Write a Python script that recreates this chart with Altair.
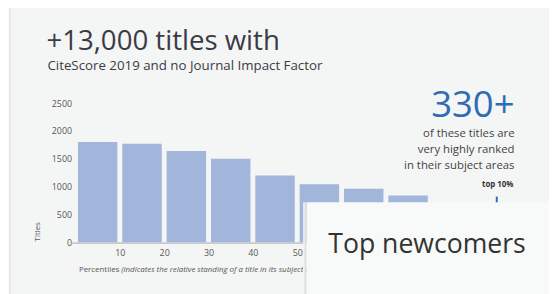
import altair as alt
import pandas as pd

# ---- data ----
bin_start = [0, 10, 20, 30, 40, 50, 60, 70, 80, 90]
bin_width = 10
titles = [1800, 1770, 1640, 1500, 1200, 1040, 960, 840, 650, 330]
x_ticks = [10, 20, 30, 40, 50]
y_ticks = [0, 500, 1000, 1500, 2000, 2500]
top10_pos = [95]
top10_top = [820]

# ---- layout (page pixels -> plot pixels) ----
W, H = 450, 141
OX, OY = 76.5, 102.5


def px(x):
    return x - OX


def py(y):
    return y - OY


FONT = "Open Sans"
BAR = "#a2b5da"
BLUE = "#2e6cb5"
CARD = "#f4f5f5"

bars_df = pd.DataFrame({
    "start": bin_start,
    "end": [s + bin_width for s in bin_start],
    "titles": titles,
})


def label(txt, x, y, size, color="#444", align="left", baseline="alphabetic", **kw):
    return alt.Chart(pd.DataFrame({"t": [txt]})).mark_text(
        font=FONT, fontSize=size, color=color, align=align, baseline=baseline, **kw
    ).encode(x=alt.value(px(x)), y=alt.value(py(y)), text="t:N")


def box(x0, x1, y0, y1, fill):
    return alt.Chart(pd.DataFrame({"k": [0]})).mark_rect(fill=fill).encode(
        x=alt.value(px(x0)), x2=alt.value(px(x1)),
        y=alt.value(py(y0)), y2=alt.value(py(y1)),
    )


def hgrad(c0, c1):
    return alt.LinearGradient(
        gradient="linear",
        stops=[alt.GradientStop(color=c0, offset=0), alt.GradientStop(color=c1, offset=1)],
        x1=0, x2=1, y1=0, y2=0,
    )


x_scale = alt.Scale(domain=[0, 100], nice=False)
y_scale = alt.Scale(domain=[0, 2500], nice=False)
x_axis = alt.Axis(
    values=x_ticks, title=None, grid=False, domain=False, ticks=False,
    labelPadding=7, labelFontSize=9, labelColor="#555", labelFont=FONT,
    labelFlush=False, labelOverlap=False, zindex=0,
)
y_axis = alt.Axis(
    values=y_ticks, title=None, grid=False, domain=False, ticks=False,
    labelPadding=4, labelFontSize=9, labelColor="#555", labelFont=FONT,
    labelOverlap=False, labelBound=False, format="d", zindex=0,
)

card_edge = box(8, 10.5, 0, 300, hgrad("#ffffff", "#dadcdc"))

baseline = alt.Chart(pd.DataFrame({"k": [0]})).mark_rule(
    color="#c8caca", strokeWidth=2
).encode(x=alt.value(px(73)), x2=alt.value(W), y=alt.value(H + 1))

bars = alt.Chart(bars_df).mark_bar(color=BAR, xOffset=2.5, x2Offset=-2.5).encode(
    x=alt.X("start:Q", scale=x_scale, axis=x_axis),
    x2="end:Q",
    y=alt.Y("titles:Q", scale=y_scale, axis=y_axis),
    y2=alt.datum(0),
)

top10 = alt.Chart(pd.DataFrame({"pos": top10_pos, "top": top10_top})).mark_rule(
    color=BLUE, strokeWidth=2
).encode(
    x=alt.X("pos:Q", scale=x_scale, axis=x_axis),
    y=alt.Y("top:Q", scale=y_scale, axis=y_axis),
    y2=alt.datum(0),
)

texts = [
    label("+13,000 titles with", 47, 48.3, 28, color="#3b3b45"),
    label("CiteScore 2019 and no Journal Impact Factor", 48, 68.3, 13.5, color="#3b3b45"),
    label("330+", 522, 116.7, 37, color=BLUE, align="right"),
    label("of these titles are", 522, 137.3, 11.5, align="right"),
    label("very highly ranked", 522, 153.3, 11.5, align="right"),
    label("in their subject areas", 522, 169, 11.5, align="right"),
    label("top 10%", 505, 187.5, 8, color="#333", align="center", fontWeight="bold"),
    label("Titles", 38, 233, 8, color="#555", align="center", baseline="middle", angle=270),
    label("Percentiles", 80, 273.5, 8, color="#555"),
    label("(indicates the relative standing of a title in its subject area)", 123, 273.5, 8,
          color="#555", fontStyle="italic"),
]

box_shadow = box(307.5, 311, 203, 300, hgrad(CARD, "#d6d8d8"))
overlay = box(311, 560, 203, 300, "#f8f9f9")
newcomers = label("Top newcomers", 333, 255, 27, color="#333")

chart = alt.layer(
    card_edge, baseline, bars, top10, *texts, box_shadow, overlay, newcomers
).properties(
    width=W,
    height=H,
    padding={"left": OX - 8, "top": OY - 8, "right": 549 - (OX - 8) - W, "bottom": 286 - (OY - 8) - H},
    autosize=alt.AutoSizeParams(type="none"),
    background=CARD,
).configure_view(stroke="transparent")

chart.save("out.html", embed_options={"renderer": "svg", "actions": False})
